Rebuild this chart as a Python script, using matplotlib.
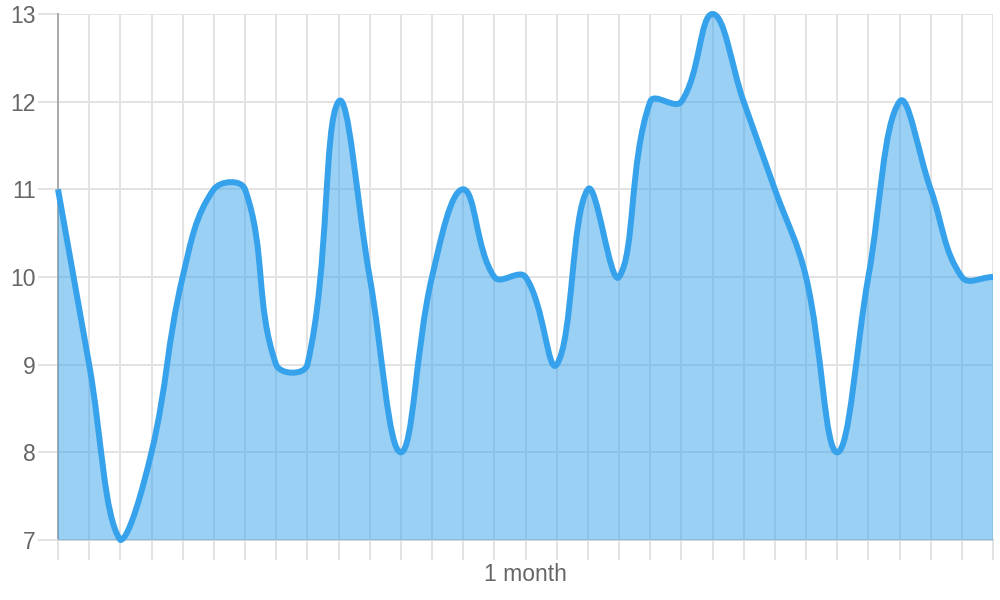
import matplotlib.pyplot as plt
import numpy as np
from matplotlib.path import Path
from matplotlib.patches import PathPatch

plt.rcParams["font.family"] = ["Liberation Sans", "DejaVu Sans"]

# daily values over one month
values = [11, 9, 7, 8, 10, 11, 11, 9, 9, 12, 10, 8, 10, 11, 10, 10,
          9, 11, 10, 12, 12, 13, 12, 11, 10, 8, 10, 12, 11, 10, 10]
y_ticks = [7, 8, 9, 10, 11, 12, 13]
x_labels = ["1 month" if i == 15 else "" for i in range(len(values))]

LINE = "#36A2EB"
GRID = "#e3e3e3"
TEXT = "#666666"


def spline_path(ax, xs, ys, tension=0.4):
    """Bezier through the points, control points as Chart.js computes them (pixel space)."""
    pts = ax.transData.transform(np.column_stack([xs, ys]))
    box = ax.bbox
    n = len(pts)
    prev_cp = np.zeros_like(pts)
    next_cp = np.zeros_like(pts)
    for i in range(n):
        p0, p1, p2 = pts[max(i - 1, 0)], pts[i], pts[min(i + 1, n - 1)]
        d01 = np.hypot(*(p1 - p0))
        d12 = np.hypot(*(p2 - p1))
        tot = d01 + d12
        s01 = d01 / tot if tot else 0.0
        s12 = d12 / tot if tot else 0.0
        prev_cp[i] = p1 - tension * s01 * (p2 - p0)
        next_cp[i] = p1 + tension * s12 * (p2 - p0)
    for cp in (prev_cp, next_cp):
        cp[:, 0] = np.clip(cp[:, 0], box.x0, box.x1)
        cp[:, 1] = np.clip(cp[:, 1], box.y0, box.y1)
    verts = [pts[0]]
    codes = [Path.MOVETO]
    for i in range(n - 1):
        verts += [next_cp[i], prev_cp[i + 1], pts[i + 1]]
        codes += [Path.CURVE4] * 3
    inv = ax.transData.inverted()
    return inv.transform(np.array(verts)), codes


fig = plt.figure(figsize=(10, 6), dpi=100)
ax = fig.add_axes([0.058, 0.1, 0.935, 0.8767])
ax.set_xlim(0, len(values) - 1)
ax.set_ylim(y_ticks[0], y_ticks[-1])

x = np.arange(len(values))
verts, codes = spline_path(ax, x, values)

fill_verts = np.vstack([verts, [[x[-1], y_ticks[0]], [x[0], y_ticks[0]], [x[0], values[0]]]])
fill_codes = codes + [Path.LINETO, Path.LINETO, Path.CLOSEPOLY]
ax.add_patch(PathPatch(Path(fill_verts, fill_codes), facecolor=LINE, alpha=0.5,
                       edgecolor="none", zorder=1))
ax.add_patch(PathPatch(Path(verts, codes), facecolor="none", edgecolor=LINE,
                       linewidth=4.3, zorder=3, clip_on=False, joinstyle="round"))

ax.set_xticks(x)
ax.set_xticklabels(x_labels)
ax.set_yticks(y_ticks)
ax.grid(True, color=GRID, linewidth=1.44)
ax.set_axisbelow(True)

ax.tick_params(axis="y", length=14.4, width=1.44, color=GRID, pad=1.5,
               labelsize=16.5, labelcolor=TEXT)
ax.tick_params(axis="x", length=14.4, width=1.44, color=GRID, pad=2,
               labelsize=16.5, labelcolor=TEXT)
ax.xaxis.get_major_ticks()[0].tick1line.set_color("#aaaaaa")

for side in ("top", "right"):
    ax.spines[side].set_visible(False)
ax.spines["left"].set_color("#aaaaaa")
ax.spines["left"].set_linewidth(1.44)
ax.spines["left"].set_zorder(0.6)
ax.spines["bottom"].set_color("#d6d6d6")
ax.spines["bottom"].set_linewidth(1.44)
ax.spines["bottom"].set_zorder(0.6)

fig.savefig("out.png", dpi=100, facecolor="white")
